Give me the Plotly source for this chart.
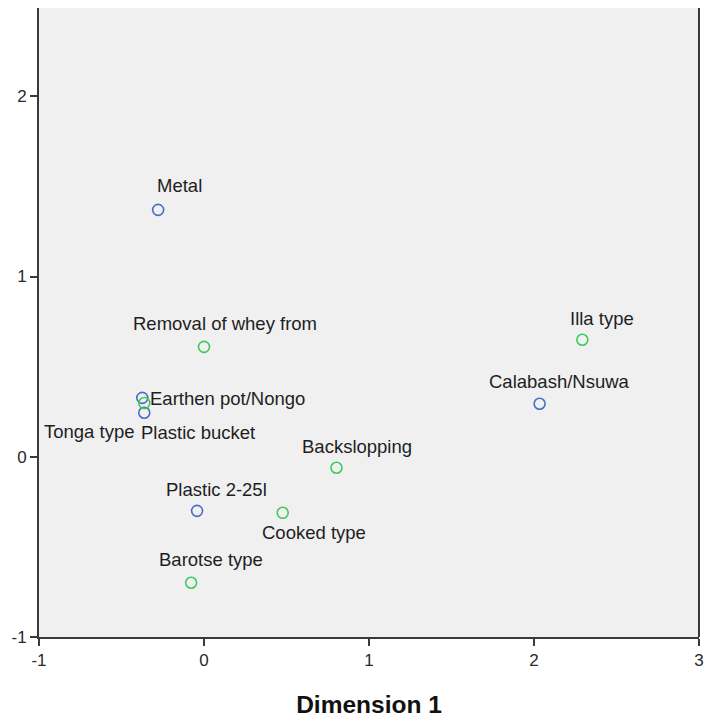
import plotly.graph_objects as go

# Category points in the joint plot (Dimension 1 / Dimension 2)
container_names = ["Metal", "Earthen pot/Nongo", "Plastic bucket", "Plastic 2-25l", "Calabash/Nsuwa"]
container_x = [-0.278, -0.374, -0.362, -0.042, 2.034]
container_y = [1.37, 0.327, 0.244, -0.30, 0.294]

product_names = ["Removal of whey from", "Tonga type", "Backslopping", "Cooked type",
                 "Barotse type", "Illa type"]
product_x = [0.0, -0.362, 0.803, 0.477, -0.078, 2.293]
product_y = [0.61, 0.298, -0.061, -0.311, -0.699, 0.649]

x_ticks = [-1, 0, 1, 2, 3]
x_tick_labels = ["-1", "0", "1", "2", "3"]
y_ticks = [-1, 0, 1, 2]
y_tick_labels = ["-1", "0", "1", "2"]

BLUE = "#4a6bc8"
GREEN = "#3ccb5b"
FONT = "Liberation Sans, Arial, sans-serif"

fig = go.Figure()
fig.add_trace(go.Scatter(
    x=container_x, y=container_y, mode="markers",
    marker=dict(symbol="circle-open", size=11, color=BLUE, line=dict(width=1.6)),
    hoverinfo="text", text=container_names, showlegend=False))
fig.add_trace(go.Scatter(
    x=product_x, y=product_y, mode="markers",
    marker=dict(symbol="circle-open", size=11, color=GREEN, line=dict(width=1.6)),
    hoverinfo="text", text=product_names, showlegend=False))

# label placement (pixel offsets from each point)
label_offsets = {
    "Metal": (21, 24, "center"),
    "Removal of whey from": (21, 23, "center"),
    "Illa type": (20, 21, "center"),
    "Calabash/Nsuwa": (20, 22, "center"),
    "Backslopping": (20, 21, "center"),
    "Plastic 2-25l": (19, 21, "center"),
    "Barotse type": (20, 23, "center"),
    "Cooked type": (31, -20, "center"),
    "Earthen pot/Nongo": (6, -1, "left"),
    "Tonga type": (-7, -28, "right"),
    "Plastic bucket": (-5, -20, "left"),
}

for names, xs, ys in ((container_names, container_x, container_y),
                      (product_names, product_x, product_y)):
    for n, x, y in zip(names, xs, ys):
        dx, dy, anchor = label_offsets[n]
        fig.add_annotation(x=x, y=y, text=n, showarrow=False, xanchor=anchor,
                           yanchor="middle", xshift=dx, yshift=dy,
                           font=dict(family=FONT, size=18.5, color="#1e1e1e"))

# right frame edge
fig.add_shape(type="line", xref="paper", yref="paper", x0=1, x1=1, y0=0, y1=1,
              line=dict(color="#3a3a3a", width=2))

fig.update_layout(
    width=705, height=718,
    margin=dict(l=39, r=1, t=8, b=81),
    paper_bgcolor="white", plot_bgcolor="#f0f0f0",
    font=dict(family=FONT, size=16, color="#333333"),
)
fig.update_xaxes(
    range=[-1, 3], tickvals=x_ticks, ticktext=x_tick_labels,
    showgrid=False, zeroline=False,
    showline=True, linecolor="#3a3a3a", linewidth=2,
    ticks="outside", ticklen=7, tickwidth=2, tickcolor="#3a3a3a",
    tickfont=dict(size=17, color="#2a2a2a"), ticklabeloverflow="allow",
    title=dict(text="<b>Dimension 1</b>", font=dict(size=24.5, color="#111111"), standoff=28),
)
fig.update_yaxes(
    range=[-1, 2.49], tickvals=y_ticks, ticktext=y_tick_labels,
    showgrid=False, zeroline=False,
    showline=True, linecolor="#3a3a3a", linewidth=2,
    ticks="outside", ticklen=7, tickwidth=2, tickcolor="#3a3a3a",
    tickfont=dict(size=17, color="#2a2a2a"), ticklabeloverflow="allow",
)

fig.write_html("out.html")
